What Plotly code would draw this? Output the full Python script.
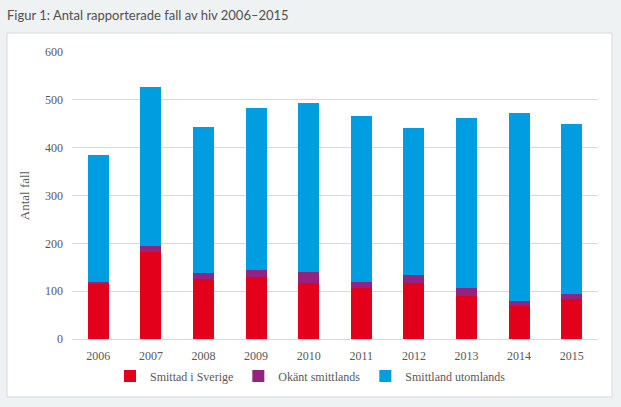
import plotly.graph_objects as go

years = ["2006", "2007", "2008", "2009", "2010", "2011", "2012", "2013", "2014", "2015"]
smittad_sverige = [114, 182, 125, 129, 118, 106, 118, 90, 68, 84]
okant = [5, 12, 12, 15, 22, 14, 16, 17, 12, 10]
utomlands = [266, 333, 306, 339, 353, 346, 307, 355, 392, 356]
y_ticks = [0, 100, 200, 300, 400, 500, 600]

series = [
    ("Smittad i Sverige", smittad_sverige, "#e2001a"),
    ("Okänt smittlands", okant, "#93237f"),
    ("Smittland utomlands", utomlands, "#009ee0"),
]

fig = go.Figure()
for name, vals, col in series:
    fig.add_trace(go.Bar(x=years, y=vals, name=name, marker=dict(color=col, line=dict(width=0))))

W, H = 621, 407
L, R, T, B = 72, 23, 52, 68
pw, ph = W - L - R, H - T - B

def px(x):
    return (x - L) / pw

def py(y):
    return (H - B - y) / ph

fig.add_shape(type="rect", xref="paper", yref="paper",
              x0=px(7), x1=px(612), y0=py(397), y1=py(33),
              fillcolor="white", line=dict(color="#d5dadb", width=1), layer="below")

fig.update_layout(
    template="none",
    width=W, height=H,
    margin=dict(l=L, r=R, t=T, b=B, autoexpand=False),
    barmode="stack", bargap=0.6,
    paper_bgcolor="#eef2f3", plot_bgcolor="white",
    title=dict(text="Figur 1: Antal rapporterade fall av hiv 2006–2015",
               x=7 / W, xanchor="left", xref="container",
               y=1 - 15 / H, yanchor="middle", yref="container",
               font=dict(family="Lato", size=13, color="#505050")),
    font=dict(family="Liberation Serif", size=12, color="#595959"),
    legend=dict(orientation="h", x=0.5, xref="container", xanchor="center",
                y=1 - 376 / H, yref="container", yanchor="middle",
                font=dict(family="Liberation Serif", size=12, color="#595959"),
                itemwidth=30, traceorder="normal", bgcolor="rgba(0,0,0,0)"),
    xaxis=dict(type="category", showgrid=False, showline=True, linecolor="#d9d9d9", linewidth=1,
               ticks="", ticklabelstandoff=6, automargin=False,
               tickfont=dict(size=12, color="#595959")),
    yaxis=dict(range=[0, 600], tickvals=y_ticks, showgrid=True, gridcolor="#d9d9d9",
               gridwidth=1, zeroline=False, showline=False, ticks="", ticklabelstandoff=8,
               automargin=False, tickfont=dict(size=12, color="#595959"),
               title=dict(text="Antal fall", standoff=12,
                          font=dict(size=13, color="#595959"))),
)

fig.write_html("out.html", config={"displayModeBar": False},
               post_script="document.body.style.margin='0';document.body.style.padding='0';")
